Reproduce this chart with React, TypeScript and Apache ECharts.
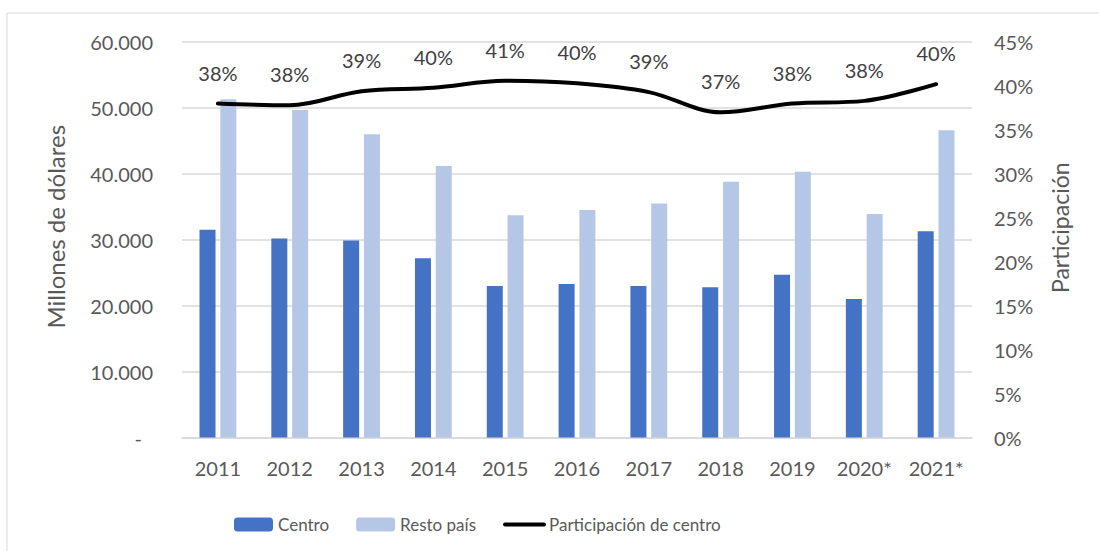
import React, { useEffect, useRef } from "react";
import * as echarts from "echarts";

const categories = ["2011", "2012", "2013", "2014", "2015", "2016", "2017", "2018", "2019", "2020*", "2021*"];
const centro = [31500, 30200, 29900, 27200, 23000, 23300, 23000, 22800, 24700, 21000, 31300];
const restoPais = [51300, 49700, 46000, 41200, 33700, 34500, 35500, 38800, 40300, 33900, 46600];
const participacion = [38.0, 37.8, 39.4, 39.8, 40.6, 40.3, 39.3, 37.0, 38.0, 38.3, 40.2];

const FONT = "Lato";
const GREY = "#595959";

function fmtThousands(v: number): string {
  const s = Math.round(v).toString();
  return s.replace(/\B(?=(\d{3})+(?!\d))/g, ".");
}

export default function App() {
  const ref = useRef<HTMLDivElement>(null);
  useEffect(() => {
    if (!ref.current) return;
    const chart = echarts.init(ref.current, null, { renderer: "svg" });
    chart.setOption({
      animation: false,
      textStyle: { fontFamily: FONT },
      graphic: [
        {
          type: "rect",
          shape: { x: 7, y: 13, width: 1200, height: 600 },
          style: { fill: "none", stroke: "#D9D9D9", lineWidth: 1 },
          silent: true,
          z: -10,
        },
      ],
      grid: { left: 182, right: 127, top: 42, bottom: 113.5, containLabel: false },
      legend: {
        left: 229,
        top: 511,
        itemWidth: 39,
        itemHeight: 14,
        itemGap: 27,
        textStyle: { fontFamily: FONT, fontSize: 17, color: GREY },
        lineStyle: { width: 4 },
        data: [
          "Centro",
          "Resto país",
          { name: "Participación de centro", itemStyle: { opacity: 0 } },
        ],
      },
      xAxis: {
        type: "category",
        data: categories,
        axisLine: { lineStyle: { color: "#D9D9D9", width: 1.5 } },
        axisTick: { show: false },
        axisLabel: { fontFamily: FONT, fontSize: 20, color: GREY, margin: 20 },
      },
      yAxis: [
        {
          type: "value",
          min: 0,
          max: 60000,
          interval: 10000,
          name: "Millones de dólares",
          nameLocation: "middle",
          nameRotate: 90,
          nameGap: 115,
          nameTextStyle: { fontFamily: FONT, fontSize: 24, color: GREY, padding: [0, 0, 0, 26] },
          axisLine: { show: false },
          axisTick: { show: false },
          splitLine: { lineStyle: { color: "#D9D9D9", width: 1.5 } },
          axisLabel: {
            fontFamily: FONT,
            fontSize: 20,
            color: GREY,
            margin: 29,
            formatter: (v: number) => (v === 0 ? "{d|-}" : fmtThousands(v)),
            rich: { d: { fontFamily: FONT, fontSize: 20, color: GREY, padding: [0, 11, 0, 0] } },
          },
        },
        {
          type: "value",
          min: 0,
          max: 45,
          interval: 5,
          position: "right",
          name: "Participación",
          nameLocation: "middle",
          nameRotate: 90,
          nameGap: 76,
          nameTextStyle: { fontFamily: FONT, fontSize: 23, color: GREY, padding: [0, 0, 0, 24] },
          axisLine: { show: false },
          axisTick: { show: false },
          splitLine: { show: false },
          axisLabel: { fontFamily: FONT, fontSize: 20, color: GREY, margin: 22, formatter: "{value}%" },
        },
      ],
      series: [
        {
          name: "Centro",
          type: "bar",
          data: centro,
          barWidth: 16,
          barGap: "30%",
          itemStyle: { color: "#4472C4" },
        },
        {
          name: "Resto país",
          type: "bar",
          data: restoPais,
          barWidth: 16,
          barGap: "30%",
          itemStyle: { color: "#B4C7E7" },
        },
        {
          name: "Participación de centro",
          type: "line",
          yAxisIndex: 1,
          data: participacion,
          smooth: 0.35,
          symbol: "circle",
          symbolSize: 2,
          showSymbol: true,
          lineStyle: { color: "#000000", width: 4, cap: "round" },
          itemStyle: { color: "#000000" },
          label: {
            show: true,
            position: "top",
            distance: 20,
            fontFamily: FONT,
            fontSize: 20,
            color: "#404040",
            opacity: 1,
            formatter: (p: any) => Math.round(p.value) + "%",
          },
          labelLayout: { hideOverlap: false },
          z: 5,
        },
      ],
    });
    return () => chart.dispose();
  }, []);
  return (
    <div
      ref={ref}
      style={{ position: "fixed", left: 0, top: 0, width: 1099, height: 551, background: "#fff" }}
    />
  );
}
